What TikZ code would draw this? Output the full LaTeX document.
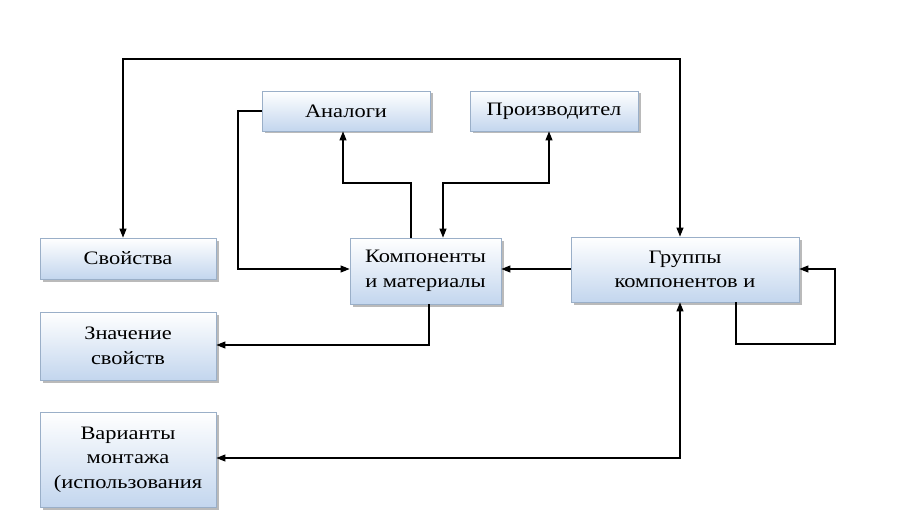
\documentclass[tikz,border=0pt]{standalone}
\usepackage{fontspec}
\setmainfont[FakeStretch=1.18]{Liberation Serif}
\usetikzlibrary{arrows.meta,shadows}
\definecolor{boxbot}{HTML}{C3D6EE}
\definecolor{boxline}{HTML}{9AAFC8}
\tikzset{
  blk/.style={draw=boxline, line width=0.8pt, top color=white, bottom color=boxbot,
    inner sep=0pt, align=center, font=\fontsize{19}{24.5}\selectfont,
    drop shadow={shadow xshift=2.5pt, shadow yshift=-2.5pt, fill=black!45, opacity=0.6}},
  arr/.style={line width=1.1pt, arrows={-Triangle[length=9pt,width=7pt]}},
  arrb/.style={line width=1.1pt, arrows={Triangle[length=9pt,width=7pt]-Triangle[length=9pt,width=7pt]}}
}
\begin{document}
\begin{tikzpicture}[x=1pt,y=-1pt]
\useasboundingbox[fill=white] (0,0) rectangle (897,516);
\node[blk, minimum width=168pt, minimum height=40pt] (an) at (346,111) {Аналоги};
\node[blk, minimum width=168pt, minimum height=40pt] (pr) at (554,111) {Производител};
\node[blk, minimum width=176pt, minimum height=41pt] (sv) at (128,258.5) {Свойства};
\node[blk, minimum width=151pt, minimum height=66pt] (km) at (425.5,271) {Компоненты\\и материалы};
\node[blk, minimum width=228pt, minimum height=65pt] (gr) at (685,269.5) {Группы\\компонентов и};
\node[blk, minimum width=176pt, minimum height=68pt] (zn) at (128,346) {Значение\\свойств};
\node[blk, minimum width=176pt, minimum height=95pt] (va) at (128,459.5) {Варианты\\монтажа\\(использования};

\coordinate (c1) at (123,59);
\coordinate (c2) at (680,59);
\draw[arrb] (c1 |- sv.north) -- (c1) -- (c2) -- (c2 |- gr.north);

\coordinate (c3) at (238,269);
\draw[arr] (an.west) -- (an.west -| c3) -- (c3) -- (km.west |- c3);

\coordinate (c4) at (411,183);
\coordinate (c5) at (343,183);
\draw[arr] (c4 |- km.north) -- (c4) -- (c5) -- (c5 |- an.south);

\coordinate (c6) at (549,183);
\coordinate (c7) at (443,183);
\draw[arrb] (c6 |- pr.south) -- (c6) -- (c7) -- (c7 |- km.north);

\coordinate (c12) at (571,269);
\draw[arr] (gr.west |- c12) -- (km.east |- c12);

\coordinate (c8) at (429,345);
\draw[arr] (c8 |- km.south) -- (c8) -- (zn.east |- c8);

\coordinate (c9) at (736,344);
\coordinate (c10) at (835,344);
\coordinate (c13) at (835,269);
\draw[arr] (c9 |- gr.south) -- (c9) -- (c10) -- (c13) -- (gr.east |- c13);

\coordinate (c11) at (680,458);
\draw[arrb] (va.east |- c11) -- (c11) -- (c11 |- gr.south);
\end{tikzpicture}
\end{document}
